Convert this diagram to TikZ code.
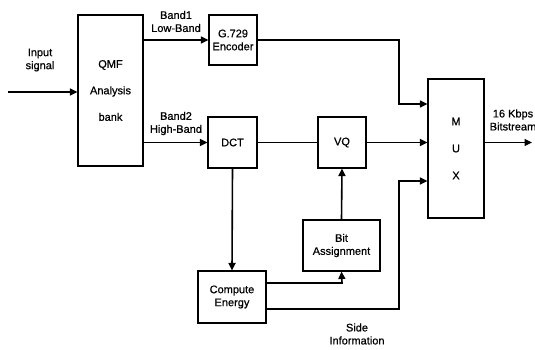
\documentclass[tikz,border=0pt]{standalone}
\usepackage{fontspec}
\setmainfont[FakeBold=0.6,AutoFakeBold=0.6]{Liberation Sans}
\usetikzlibrary{arrows.meta}
\tikzset{
  blk/.style={draw, line width=1.1pt, inner sep=0pt, align=center,
              font=\fontsize{11}{13}\selectfont},
  lbl/.style={inner sep=0pt, align=center, font=\fontsize{11}{13}\selectfont},
  arr/.style={line width=1.6pt, -{Triangle[length=7.5pt,width=7pt]}},
  ln/.style={line width=1.6pt}
}
\begin{document}
\begin{tikzpicture}[x=1pt,y=-1pt]
\useasboundingbox (0,0) rectangle (535,350);
% blocks
\node[blk, minimum width=65pt, minimum height=151pt,
      font=\fontsize{11}{26.5}\selectfont] (qmf) at (110.5,90.5) {QMF\\Analysis\\bank};
\node[blk, minimum width=48pt, minimum height=50pt] (g729) at (233,40) {G.729\\Encoder};
\node[blk, minimum width=49pt, minimum height=51pt] (dct) at (232.5,142.5) {DCT};
\node[blk, minimum width=48pt, minimum height=51pt] (vq) at (342,142.5) {VQ};
\node[blk, minimum width=56pt, minimum height=139pt,
      font=\fontsize{11}{27}\selectfont] (mux) at (456,148.5) {M\\U\\X};
\node[blk, minimum width=77pt, minimum height=51pt] (bit) at (341.5,245.5) {Bit\\Assignment};
\node[blk, minimum width=68pt, minimum height=52pt] (ce) at (232,297) {Compute\\Energy};
% labels
\node[lbl] (linput) at (40,60) {Input\\signal};
\node[lbl] (lband1) at (176,21.5) {Band1\\Low-Band};
\node[lbl] (lband2) at (176,123.5) {Band2\\High-Band};
\node[lbl] (lout) at (513,120) {16 Kbps\\Bitstream};
\node[lbl] (lside) at (357,334) {Side\\Information};
% coordinates
\coordinate (in) at (8,92);
\coordinate (c1) at (399,104);
\coordinate (c3) at (399,181);
\coordinate (c3b) at (399,309);
\coordinate (c4) at (342,283);
\coordinate (out) at (532,142.5);
% connectors
\draw[arr] (in) -- (in -| qmf.west);
\draw[arr] (g729.west -| qmf.east) -- (g729.west);
\draw[arr] (dct.west -| qmf.east) -- (dct.west);
\draw[arr] (g729.east) -| (c1) -- (c1 -| mux.west);
\draw[ln] (dct.east) -- (vq.west);
\draw[arr] (vq.east) -- (vq.east -| mux.west);
\draw[arr] (dct.south) -- (ce.north);
\draw[arr] (ce.east |- c3b) -- (c3b) -- (c3) -- (c3 -| mux.west);
\draw[arr] (ce.east |- c4) -- (c4) -- (bit.south);
\draw[arr] (bit.north) -- (vq.south);
\draw[arr] (mux.east |- out) -- (out);
\end{tikzpicture}
\end{document}
